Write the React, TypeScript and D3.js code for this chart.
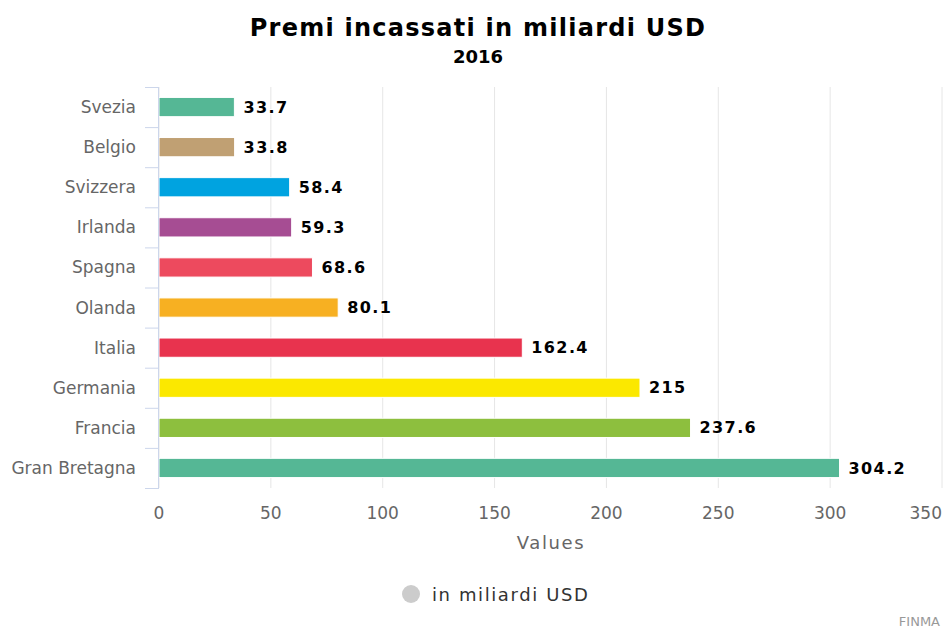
import React from "react";
import * as d3 from "d3";

const categories = ["Svezia", "Belgio", "Svizzera", "Irlanda", "Spagna", "Olanda", "Italia", "Germania", "Francia", "Gran Bretagna"];
const values = [33.7, 33.8, 58.4, 59.3, 68.6, 80.1, 162.4, 215, 237.6, 304.2];
const barColors = ["#55b795", "#c0a073", "#00a3e0", "#a64d93", "#ed4a5e", "#f7b022", "#e8334e", "#fbe800", "#8dbf3e", "#55b795"];
const xTicks = [0, 50, 100, 150, 200, 250, 300, 350];

const W = 944;
const H = 628;
const margin = { left: 159, right: 2, top: 87, bottom: 140 };
const FONT = "DejaVu Sans, sans-serif";

export default function App() {
  const x = d3.scaleLinear().domain([0, 350]).range([margin.left, W - margin.right]);
  const y = d3.scaleBand().domain(categories).range([margin.top, H - margin.bottom]).paddingInner(0.52).paddingOuter(0.26);
  const step = y.step();
  const bandTop = margin.top;
  const bandBottom = H - margin.bottom;
  return (
    <svg width={W} height={H} style={{ position: "absolute", left: 0, top: 0, background: "#fff" }} fontFamily={FONT}>
      <text x={478} y={36} textAnchor="middle" fontSize={24} fontWeight="bold" letterSpacing={1.25} fill="#000">Premi incassati in miliardi USD</text>
      <text x={478} y={63} textAnchor="middle" fontSize={18} fontWeight="bold" fill="#000">2016</text>
      {xTicks.map((t) => (
        <line key={"g" + t} x1={x(t)} x2={x(t)} y1={bandTop} y2={bandBottom} stroke="#e6e6e6" strokeWidth={1} />
      ))}
      {categories.map((c, i) => (
        <rect key={c} x={x(0)} y={y(c)!} width={x(values[i]) - x(0)} height={y.bandwidth()} fill={barColors[i]} stroke="#fff" strokeWidth={1} />
      ))}
      <line x1={margin.left - 0.5} x2={margin.left - 0.5} y1={bandTop} y2={bandBottom} stroke="#ccd6eb" strokeWidth={1} />
      {d3.range(categories.length + 1).map((i) => (
        <line key={"t" + i} x1={margin.left - 14} x2={margin.left} y1={bandTop + i * step + 0.5} y2={bandTop + i * step + 0.5} stroke="#ccd6eb" strokeWidth={1} />
      ))}
      {categories.map((c) => (
        <text key={"l" + c} x={136} y={y(c)! + y.bandwidth() / 2} dy="0.35em" textAnchor="end" fontSize={17} fill="#666">{c}</text>
      ))}
      {categories.map((c, i) => (
        <text key={"v" + c} x={x(values[i]) + 9} y={y(c)! + y.bandwidth() / 2} dy="0.35em" fontSize={16} fontWeight="bold" letterSpacing={1.4} fill="#000" stroke="#fff" strokeWidth={2} paintOrder="stroke">{values[i]}</text>
      ))}
      {xTicks.map((t, i) => (
        <text key={"x" + t} x={i === xTicks.length - 1 ? W - 2 : x(t)} y={519} textAnchor={i === xTicks.length - 1 ? "end" : "middle"} fontSize={17} fill="#666">{t}</text>
      ))}
      <text x={551} y={549} textAnchor="middle" fontSize={18} letterSpacing={1.6} fill="#666">Values</text>
      <circle cx={411} cy={594} r={9} fill="#ccc" />
      <text x={432} y={601} fontSize={18} letterSpacing={1.6} fill="#333">in miliardi USD</text>
      <text x={940} y={626} textAnchor="end" fontSize={13} fill="#999">FINMA</text>
    </svg>
  );
}
